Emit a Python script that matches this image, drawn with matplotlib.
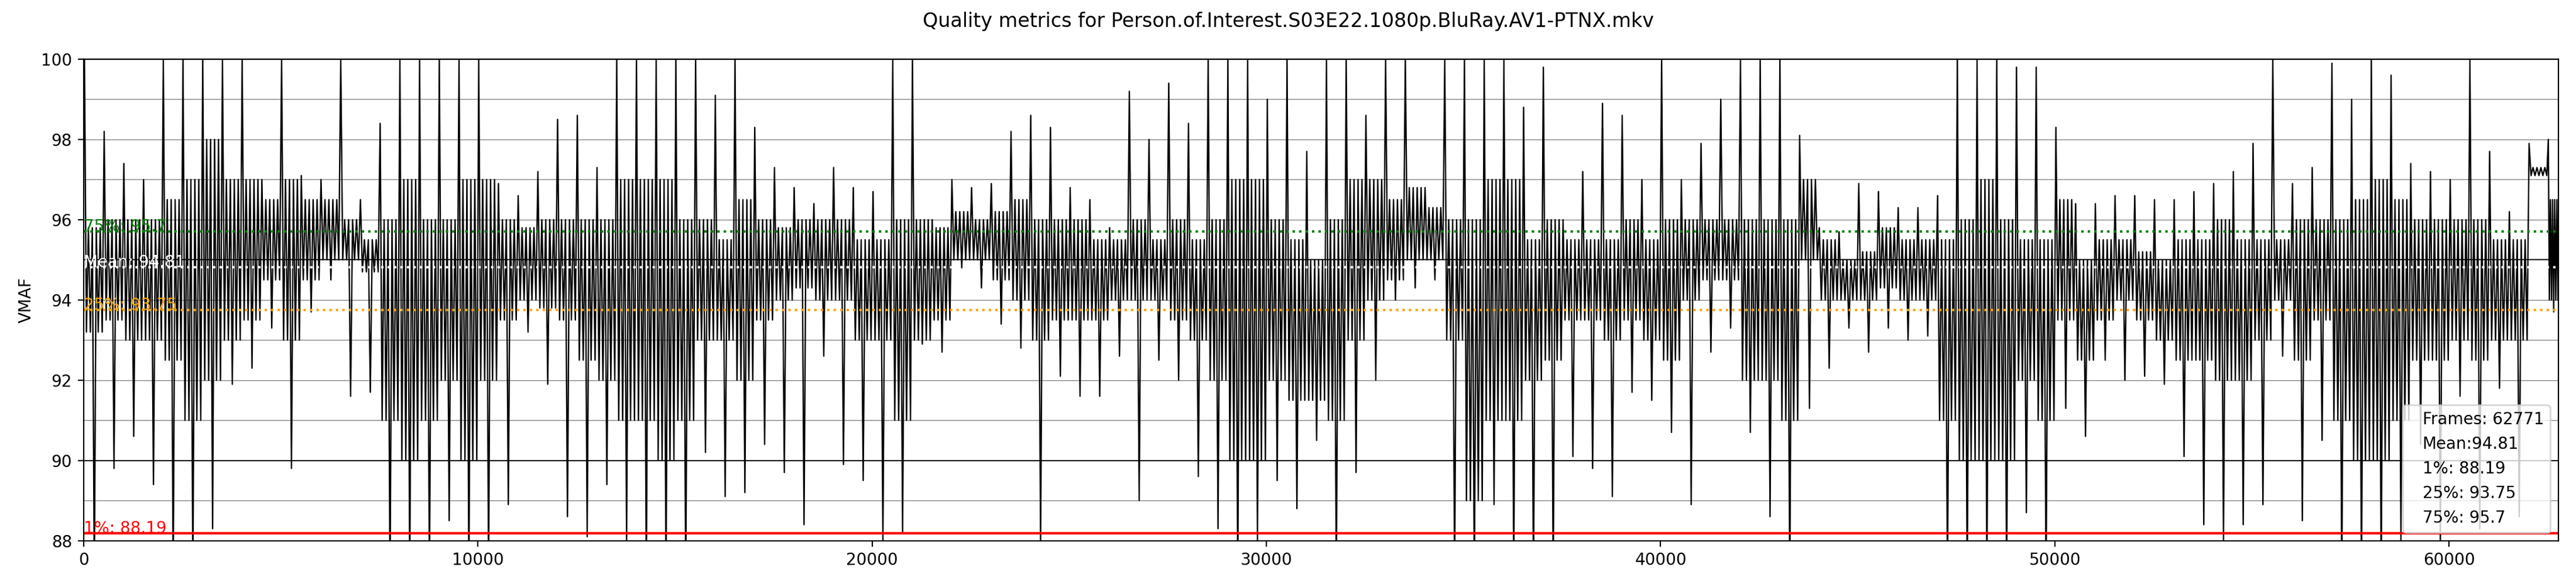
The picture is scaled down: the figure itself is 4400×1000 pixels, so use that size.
import numpy as np
import matplotlib
matplotlib.use("Agg")
import matplotlib.pyplot as plt
from matplotlib.lines import Line2D
from matplotlib.ticker import MultipleLocator

title = "Quality metrics for Person.of.Interest.S03E22.1080p.BluRay.AV1-PTNX.mkv"
frames = 62771
chunk = 500

# per-500-frame envelope of the VMAF trace
# top/bottom = spike extremes, upper/lower = dense band
vmaf_top = [
    100, 98.2, 97.4, 97.0, 100, 100, 100, 100, 100, 97.0,
    100, 97.1, 97.0, 100, 96.5, 98.4, 100, 100, 100, 100,
    100, 96.9, 96.6, 97.2, 98.5, 98.6, 97.3, 100, 100, 100,
    100, 100, 99.1, 100, 98.3, 97.3, 96.8, 96.4, 97.3, 96.8,
    96.7, 100, 100, 96.0, 97.0, 96.8, 96.9, 98.2, 98.6, 98.3,
    96.8, 96.5, 95.8, 99.2, 98.0, 99.4, 98.4, 100, 100, 100,
    99.0, 100, 97.7, 100, 100, 98.6, 100, 100, 96.8, 100,
    100, 100, 100, 98.8, 99.8, 96.0, 97.2, 98.9, 98.6, 97.0,
    100, 97.0, 97.9, 99.0, 100, 100, 100, 98.1, 95.8, 95.7,
    96.9, 96.7, 96.3, 96.3, 96.6, 100, 100, 100, 99.8, 99.8,
    98.3, 96.4, 96.4, 96.6, 96.6, 96.5, 96.5, 96.7, 96.9, 97.2,
    97.9, 100, 96.9, 97.3, 99.9, 99.0, 100, 99.6, 97.4, 97.2,
    97.0, 100, 97.7, 96.2, 97.9, 98.0,
]
vmaf_upper = [
    95.8, 96.0, 96.0, 96.0, 96.5, 97.0, 98.0, 97.0, 97.0, 96.5,
    97.0, 96.5, 96.5, 96.0, 95.5, 96.0, 97.0, 96.0, 96.0, 97.0,
    97.0, 96.0, 95.8, 96.0, 96.0, 96.0, 96.0, 97.0, 97.0, 97.0,
    96.0, 96.0, 95.5, 96.5, 96.0, 95.8, 96.0, 96.0, 96.0, 95.5,
    95.5, 96.0, 96.0, 95.8, 96.2, 96.0, 96.2, 96.5, 96.0, 96.0,
    96.0, 95.5, 95.5, 96.0, 95.5, 96.0, 95.5, 96.0, 97.0, 97.0,
    96.0, 95.5, 95.0, 96.0, 97.0, 97.0, 96.5, 96.8, 96.3, 96.0,
    96.0, 97.0, 97.0, 95.5, 96.0, 95.5, 95.5, 95.5, 96.0, 95.5,
    96.0, 96.0, 96.0, 96.0, 96.0, 96.0, 96.0, 97.0, 95.5, 95.0,
    95.2, 95.8, 95.5, 95.5, 95.5, 96.0, 97.0, 96.0, 95.5, 95.5,
    96.5, 95.0, 95.5, 95.5, 95.2, 95.0, 95.5, 95.5, 96.0, 95.5,
    95.5, 95.5, 96.0, 96.0, 96.0, 96.5, 97.0, 96.5, 96.0, 96.0,
    96.0, 96.0, 95.5, 95.5, 97.3, 96.5,
]
vmaf_lower = [
    93.2, 93.5, 93.0, 93.0, 92.5, 91.0, 92.0, 93.0, 93.5, 94.5,
    93.0, 94.5, 95.0, 95.0, 94.7, 91.0, 90.0, 91.0, 92.0, 90.0,
    92.0, 93.5, 94.0, 93.8, 93.5, 92.5, 92.0, 91.0, 91.0, 90.0,
    91.0, 93.0, 93.0, 92.0, 93.5, 94.0, 94.3, 94.0, 94.0, 93.0,
    93.0, 91.0, 93.0, 93.5, 95.0, 95.0, 94.5, 94.0, 93.0, 93.5,
    93.5, 93.5, 94.0, 94.0, 94.0, 93.5, 93.0, 92.0, 90.0, 90.0,
    92.0, 91.5, 91.5, 91.0, 93.0, 94.0, 94.5, 95.0, 95.0, 93.0,
    89.0, 91.0, 91.0, 92.0, 92.5, 93.5, 93.5, 93.0, 93.5, 93.0,
    92.5, 94.0, 94.5, 94.5, 92.0, 92.0, 91.0, 95.0, 94.0, 94.0,
    94.0, 94.3, 94.0, 94.0, 91.0, 90.0, 90.0, 90.0, 92.0, 91.0,
    93.5, 92.5, 93.5, 94.0, 93.5, 93.0, 92.5, 92.5, 92.0, 92.0,
    93.0, 94.0, 92.5, 93.5, 91.0, 90.0, 90.0, 91.0, 92.5, 92.5,
    93.0, 92.5, 93.0, 93.0, 97.1, 94.0,
]
vmaf_bottom = [
    87, 89.8, 90.6, 89.4, 87, 87, 88.3, 91.9, 92.3, 93.3,
    89.8, 93.7, 94.5, 91.6, 91.7, 87, 87, 87, 88.5, 87,
    87, 88.9, 93.2, 91.9, 88.6, 88.1, 89.4, 88.0, 87, 87,
    87, 90.2, 89.1, 89.2, 90.4, 89.7, 88.4, 92.6, 89.9, 89.5,
    88.0, 88.2, 92.9, 92.7, 94.8, 94.3, 93.4, 92.8, 88.0, 92.1,
    91.6, 91.6, 92.6, 89.0, 92.5, 92.0, 89.6, 88.3, 87, 88.0,
    89.5, 88.8, 90.5, 87, 89.7, 92.0, 94.0, 94.3, 94.5, 87,
    87, 88.9, 87, 87, 87, 90.1, 89.8, 89.1, 91.7, 91.5,
    90.7, 88.9, 92.7, 93.3, 90.7, 88.6, 87, 91.3, 92.3, 93.3,
    92.7, 93.3, 93.0, 93.1, 87, 87, 87, 87, 88.7, 87,
    91.3, 90.6, 92.5, 92.0, 92.1, 91.9, 90.1, 88.4, 88.0, 88.4,
    88.9, 92.6, 88.5, 90.5, 87, 87, 87, 88.0, 90.4, 88.0,
    91.6, 88.3, 91.8, 88.6, 97.1, 93.7,
]

stat_mean = 94.81
stat_p1 = 88.19
stat_p25 = 93.75
stat_p75 = 95.7

# order in which each chunk's values are traced by the line
trace_order = ['top', 'lower', 'upper', 'lower', 'upper',
               'bottom', 'upper', 'lower', 'upper', 'lower']


def main():
    env = {
        'top': np.array(vmaf_top),
        'upper': np.array(vmaf_upper),
        'lower': np.array(vmaf_lower),
        'bottom': np.array(vmaf_bottom),
    }
    starts = np.arange(len(vmaf_top)) * chunk
    width = np.minimum(chunk, frames - starts)
    offs = (np.arange(len(trace_order)) + 0.5) / len(trace_order)
    x = (starts[:, None] + width[:, None] * offs).ravel()
    y = np.column_stack([env[k] for k in trace_order]).ravel()

    fig = plt.figure(figsize=(22, 5), dpi=200)
    ax = fig.add_subplot(111)
    fig.subplots_adjust(left=0.0324, right=0.9932, bottom=0.0773, top=0.899)

    ax.yaxis.set_minor_locator(MultipleLocator(1))
    ax.tick_params(axis='y', which='minor', length=0)
    ax.grid(axis='y', which='both', color='grey', lw=0.5)

    ax.plot(x, y, color='black', lw=0.85)

    ax.axhline(90, color='black', lw=0.7)
    ax.axhline(95, color='black', lw=0.7)

    ax.axhline(stat_p75, color='green', ls=':', lw=1.5)
    ax.axhline(stat_mean, color='white', ls=':', lw=1.5)
    ax.axhline(stat_p25, color='orange', ls=':', lw=1.5)
    ax.axhline(stat_p1, color='red', lw=1.5)

    ax.text(0, stat_p75, f"75%: {stat_p75}", color='green')
    ax.text(0, stat_mean, f"Mean: {stat_mean}", color='white')
    ax.text(0, stat_p25, f"25%: {stat_p25}", color='orange')
    ax.text(0, stat_p1, f"1%: {stat_p1}", color='red')

    labels = [f"Frames: {frames}", f"Mean:{stat_mean}", f"1%: {stat_p1}",
              f"25%: {stat_p25}", f"75%: {stat_p75}"]
    handles = [Line2D([], [], ls='none') for _ in labels]
    ax.legend(handles, labels, loc='lower right', handlelength=0, handletextpad=0.8)

    ax.set_xlim(0, frames)
    ax.set_ylim(88, 100)
    ax.set_ylabel("VMAF")
    fig.suptitle(title)

    fig.savefig("out.png", dpi=200)
    plt.close(fig)


if __name__ == "__main__":
    main()
